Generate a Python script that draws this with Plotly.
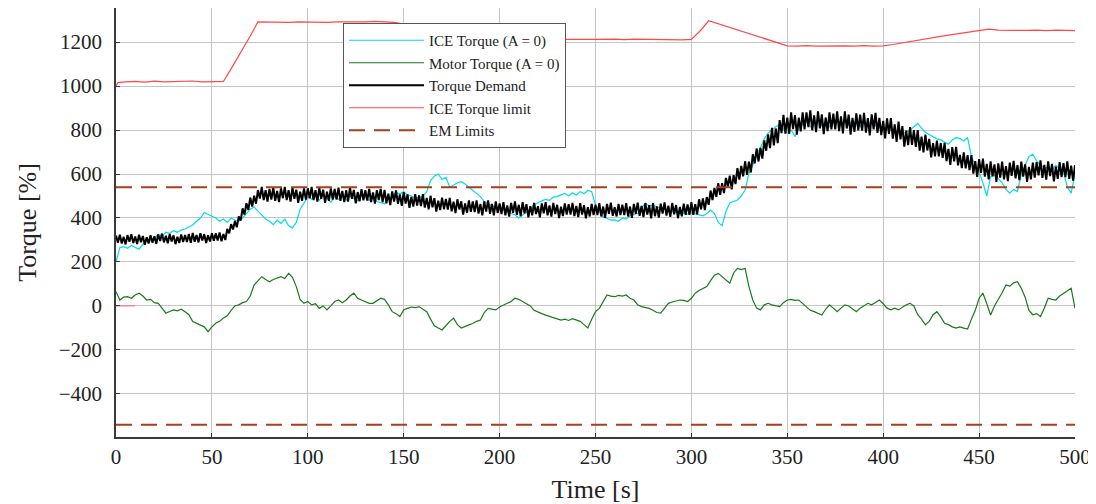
import plotly.graph_objects as go

# ---------------- data ----------------
time_s = list(range(0, 501, 2))       # sample times [s] for ICE / motor torque
demand_time = list(range(0, 501))     # sample times [s] for the torque demand

ice_torque = [
    200, 265, 270, 262, 275, 268, 258, 280, 300, 295,
    310, 325, 318, 335, 330, 342, 335, 345, 350, 358,
    368, 385, 400, 425, 415, 408, 400, 385, 395, 380,
    400, 390, 385, 400, 420, 440, 450, 430, 410, 395,
    385, 370, 390, 375, 395, 365, 355, 380, 440, 470,
    495, 485, 500, 480, 505, 490, 470, 498, 485, 505,
    480, 500, 490, 478, 502, 495, 480, 490, 475, 470,
    465, 485, 500, 515, 510, 520, 505, 500, 490, 495,
    497, 520, 570, 590, 600, 575, 585, 540, 550, 560,
    565, 555, 540, 525, 510, 497, 475, 465, 455, 450,
    445, 435, 428, 420, 415, 400, 412, 425, 440, 460,
    470, 478, 485, 480, 495, 497, 505, 512, 500, 515,
    505, 520, 510, 525, 520, 459, 430, 405, 398, 390,
    391, 385, 400, 395, 410, 414, 420, 445, 468, 455,
    459, 450, 445, 440, 432, 429, 425, 420, 423, 418,
    423, 418, 414, 410, 420, 436, 420, 380, 365, 430,
    468, 475, 482, 500, 527, 603, 640, 690, 720, 760,
    786, 800, 815, 823, 805, 786, 800, 770, 810, 825,
    845, 815, 830, 850, 820, 840, 815, 835, 850, 825,
    840, 820, 845, 830, 815, 840, 825, 845, 820, 810,
    815, 805, 800, 790, 785, 786, 790, 800, 815, 830,
    809, 790, 780, 770, 760, 755, 745, 735, 755, 765,
    762, 750, 765, 679, 640, 610, 560, 500, 588, 595,
    580, 560, 530, 513, 530, 520, 600, 640, 680, 690,
    660, 640, 630, 626, 620, 640, 626, 610, 540, 513,
    600,
]

motor_torque = [
    65, 27, 40, 42, 35, 50, 58, 45, 27, 30,
    15, 12, -10, -33, -25, -18, -22, -15, -26, -40,
    -71, -80, -86, -95, -117, -95, -79, -70, -55, -45,
    -20, 0, 5, 15, 20, 45, 95, 115, 133, 120,
    110, 120, 128, 133, 125, 148, 130, 88, 30, 12,
    20, 5, 10, -11, 0, -18, 0, 20, 27, 15,
    27, 45, 58, 35, 27, 20, 12, 12, 25, 35,
    30, 5, -26, -35, -48, -18, -11, -5, -8, -3,
    -15, -26, -60, -90, -100, -109, -90, -70, -56, -85,
    -100, -92, -86, -80, -70, -64, -30, -11, -15, -18,
    -5, 5, 12, 20, 35, 30, 20, 12, 0, -20,
    -26, -35, -42, -48, -52, -58, -64, -60, -66, -58,
    -64, -70, -85, -100, -60, -26, -11, 20, 50, 45,
    42, 48, 45, 50, 35, 27, 5, -3, -8, -11,
    -20, -30, -33, -10, 12, 18, 22, 27, 25, 20,
    35, 58, 70, 80, 88, 115, 140, 148, 133, 115,
    103, 150, 171, 165, 171, 88, 27, -10, -18, 5,
    12, 5, 0, -3, 15, 27, 30, 25, 27, 10,
    -5, -20, -26, -35, -41, -15, 5, -10, -26, -10,
    5, 0, -15, -26, -10, 0, 12, 5, 15, 27,
    10, -10, -18, -10, -18, -5, 5, 12, 0, -40,
    -60, -86, -70, -40, -26, -50, -79, -85, -95, -101,
    -95, -101, -105, -60, -20, 35, 58, 10, -41, 0,
    27, 60, 95, 90, 105, 110, 80, 40, -20, -40,
    -35, -48, -10, 35, 30, 27, 45, 58, 70, 80,
    -11,
]

torque_demand = [
    320, 288, 324, 284, 314, 280, 322, 292, 326, 286, 316, 282, 324, 290, 318, 278, 312, 284, 322, 288,
    317, 283, 325, 295, 329, 289, 319, 285, 327, 293, 321, 281, 315, 287, 325, 291, 323, 291, 327, 287,
    332, 292, 323, 289, 331, 298, 326, 286, 321, 293, 331, 297, 330, 298, 334, 294, 327, 300, 350, 330,
    372, 348, 386, 358, 407, 388, 444, 415, 467, 437, 493, 452, 501, 465, 527, 488, 541, 481, 526, 475,
    532, 484, 538, 478, 523, 472, 535, 490, 541, 481, 526, 475, 538, 487, 529, 469, 520, 478, 535, 484,
    535, 490, 541, 481, 526, 475, 538, 487, 529, 469, 520, 478, 535, 484, 532, 484, 538, 478, 523, 472,
    526, 475, 538, 487, 528, 467, 518, 476, 531, 480, 527, 479, 532, 472, 516, 465, 527, 482, 532, 472,
    528, 467, 511, 459, 521, 475, 525, 464, 507, 455, 518, 466, 507, 446, 496, 452, 508, 456, 503, 454,
    508, 447, 491, 439, 501, 449, 490, 429, 479, 436, 492, 440, 487, 438, 491, 430, 474, 422, 485, 439,
    476, 415, 466, 423, 480, 428, 475, 427, 480, 420, 464, 412, 475, 429, 480, 419, 464, 412, 475, 423,
    466, 418, 472, 412, 457, 406, 469, 424, 475, 415, 460, 409, 472, 421, 463, 403, 454, 412, 469, 418,
    454, 403, 466, 421, 472, 412, 457, 406, 469, 418, 460, 400, 451, 409, 466, 415, 463, 415, 469, 409,
    455, 404, 467, 416, 458, 398, 449, 407, 464, 413, 461, 413, 467, 407, 452, 401, 464, 419, 470, 410,
    449, 407, 464, 413, 461, 413, 467, 407, 452, 401, 464, 419, 470, 410, 455, 404, 467, 416, 458, 398,
    468, 408, 453, 402, 465, 420, 471, 411, 456, 405, 468, 417, 459, 399, 450, 408, 465, 414, 462, 414,
    472, 414, 463, 417, 485, 440, 489, 436, 495, 460, 525, 481, 537, 496, 558, 505, 558, 513, 582, 543,
    593, 530, 595, 554, 627, 575, 637, 589, 658, 596, 656, 607, 690, 648, 716, 657, 719, 670, 753, 706,
    780, 718, 810, 730, 807, 740, 845, 786, 869, 784, 857, 783, 880, 804, 868, 779, 856, 794, 880, 803,
    880, 813, 889, 799, 867, 790, 885, 808, 871, 781, 857, 795, 880, 803, 875, 803, 885, 795, 862, 785,
    885, 807, 870, 779, 855, 792, 876, 798, 870, 797, 878, 788, 854, 776, 871, 803, 878, 787, 855, 777,
    842, 762, 853, 782, 854, 761, 826, 746, 838, 758, 818, 724, 797, 731, 813, 732, 800, 723, 800, 706,
    770, 698, 779, 707, 760, 676, 740, 680, 752, 680, 741, 673, 742, 658, 714, 642, 722, 658, 723, 639,
    687, 627, 698, 626, 686, 618, 686, 602, 659, 587, 668, 605, 670, 588, 646, 576, 658, 589, 644, 564,
    648, 584, 656, 576, 636, 568, 652, 592, 660, 580, 640, 572, 656, 588, 644, 564, 632, 576, 652, 584,
    654, 594, 662, 582, 642, 574, 658, 590, 646, 566, 634, 578, 654, 586, 650, 586, 658, 578, 638, 570,
    640,
]

limit_time = [
    0, 1,
    5, 10, 15, 20, 25, 30, 35, 40, 45, 50,
    55, 56, 60, 65, 70, 74,
    80, 85, 90, 95, 100, 105, 110, 115, 120, 125, 130, 135, 140, 145,
    150, 155, 160, 165, 170, 175,
    180, 190, 200, 210, 220, 230, 240, 250,
    260, 265, 270, 275, 280, 285, 290, 295,
    300, 305, 309,
    315, 320, 325, 330, 335, 340, 345, 350,
    355, 360, 365, 370, 375, 380, 385, 390, 395, 400,
    405, 410, 415, 420, 425, 430, 435, 440, 445, 450,
    455, 460, 465, 470, 475, 480, 485, 490, 495, 500,
]
ice_torque_limit = [
    1000, 1016,
    1019, 1021, 1018, 1022, 1019, 1021, 1020, 1023, 1019, 1021,
    1020, 1021, 1078, 1152, 1228, 1292,
    1291, 1293, 1290, 1292, 1291, 1293, 1290, 1292, 1291, 1293, 1292, 1294, 1293, 1290,
    1282, 1268, 1254, 1240, 1226, 1214,
    1212, 1213, 1211, 1213, 1212, 1211, 1213, 1212,
    1213, 1211, 1213, 1212, 1211, 1213, 1212, 1210,
    1212, 1255, 1297,
    1280, 1266, 1252, 1238, 1224, 1210, 1196, 1183,
    1182, 1184, 1182, 1183, 1181, 1183, 1182, 1184, 1182, 1183,
    1189, 1197, 1204, 1211, 1219, 1226, 1233, 1240, 1248, 1255,
    1259, 1254, 1253, 1255, 1253, 1254, 1252, 1254, 1253, 1252,
]

em_time = [0, 500]
em_upper = [540, 540]
em_lower = [-540, -540]

stub_time = [0, 10]
stub_value = [0, 0]

x_ticks = [0, 50, 100, 150, 200, 250, 300, 350, 400, 450, 500]
y_ticks = [-400, -200, 0, 200, 400, 600, 800, 1000, 1200]

# ---------------- figure ----------------
FONT = "Liberation Serif"
fig = go.Figure()

fig.add_trace(go.Scatter(x=stub_time, y=stub_value, mode="lines",
                         line=dict(color="#f06c8c", width=1), showlegend=False,
                         hoverinfo="skip"))
fig.add_trace(go.Scatter(x=time_s, y=ice_torque, mode="lines",
                         name="ICE Torque (A = 0)",
                         line=dict(color="#00dcec", width=1.2)))
fig.add_trace(go.Scatter(x=time_s, y=motor_torque, mode="lines",
                         name="Motor Torque (A = 0)",
                         line=dict(color="#1a7a1a", width=1.2)))
fig.add_trace(go.Scatter(x=demand_time, y=torque_demand, mode="lines",
                         name="Torque Demand",
                         line=dict(color="#000000", width=2)))
fig.add_trace(go.Scatter(x=limit_time, y=ice_torque_limit, mode="lines",
                         name="ICE Torque limit",
                         line=dict(color="#ff4848", width=1.2)))
fig.add_trace(go.Scatter(x=em_time, y=em_upper, mode="lines",
                         name="EM Limits", legendgroup="em",
                         line=dict(color="#a3401e", width=2, dash="16px,9px")))
fig.add_trace(go.Scatter(x=em_time, y=em_lower, mode="lines",
                         name="EM Limits", legendgroup="em", showlegend=False,
                         line=dict(color="#a3401e", width=2, dash="16px,9px")))

axis_common = dict(
    showgrid=True, gridcolor="#c4c4c4", gridwidth=1,
    zeroline=False, showline=True, linecolor="#3a3a3a", linewidth=1.5,
    ticks="inside", ticklen=4, tickcolor="#3a3a3a", automargin=False,
    tickfont=dict(family=FONT, size=21, color="#222222"),
)

# the page places the figure 8 px in from the window's top-left corner
fig.update_layout(
    width=1088, height=496,
    margin=dict(l=108, r=21, t=0, b=67),
    plot_bgcolor="white", paper_bgcolor="white",
    font=dict(family=FONT, color="#222222"),
    xaxis=dict(range=[0, 500], tickvals=x_ticks,
               title=dict(text="Time [s]", font=dict(family=FONT, size=26)),
               **axis_common),
    yaxis=dict(range=[-596, 1355], tickvals=y_ticks, ticklabelstandoff=8,
               title=dict(text="Torque [%]", font=dict(family=FONT, size=26)),
               **axis_common),
    legend=dict(x=0.2367, y=0.965, xanchor="left", yanchor="top",
                bgcolor="white", bordercolor="#555555", borderwidth=1,
                font=dict(family=FONT, size=15, color="#222222"),
                itemwidth=75, tracegroupgap=0,
                entrywidth=236, entrywidthmode="pixels"),
    showlegend=True,
)

fig.write_html("out.html")
